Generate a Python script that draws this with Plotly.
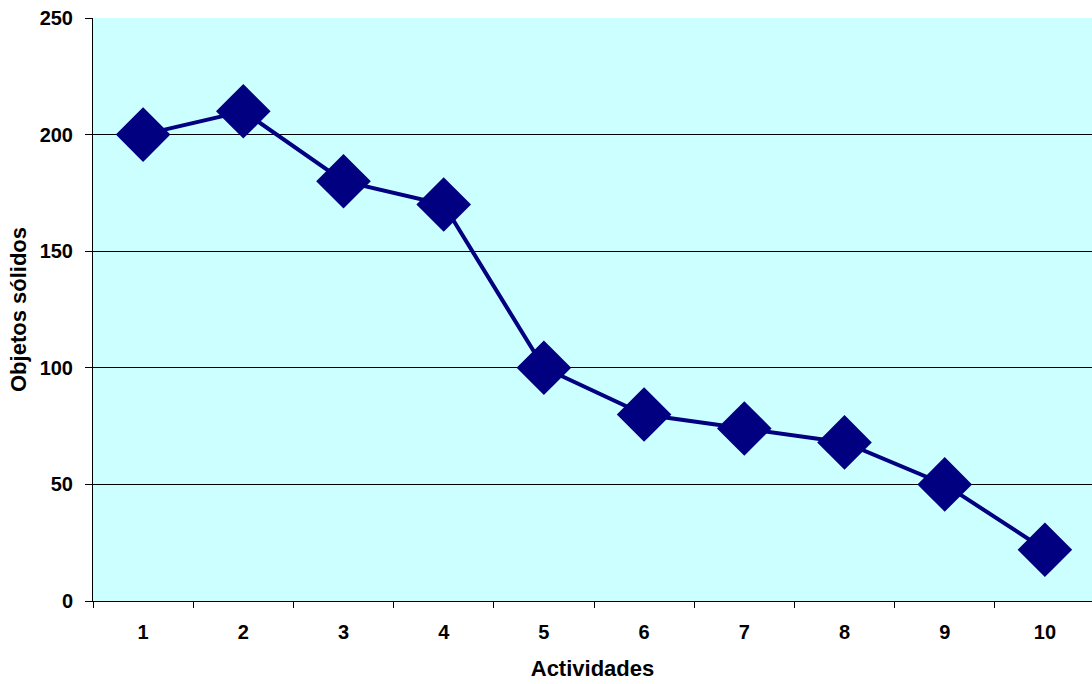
import plotly.graph_objects as go

categories = ["1", "2", "3", "4", "5", "6", "7", "8", "9", "10"]
values = [200, 210, 180, 170, 100, 80, 74, 68, 50, 22]
y_ticks = [0, 50, 100, 150, 200, 250]

fig = go.Figure()
fig.add_trace(go.Scatter(
    x=categories, y=values, mode="lines+markers",
    line=dict(color="#000080", width=4),
    marker=dict(symbol="diamond", size=42, color="#000080"),
    showlegend=False, cliponaxis=False,
))

tickfont = dict(size=20, family="Liberation Sans, Arial, sans-serif", color="black", weight="bold")
titlefont = dict(size=22, family="Liberation Sans, Arial, sans-serif", color="black", weight="bold")
fig.update_layout(
    width=1092, height=684,
    margin=dict(l=93, r=0, t=18, b=83),
    paper_bgcolor="white", plot_bgcolor="#CCFFFF",
    xaxis=dict(
        type="category", range=[-0.5, 9.47], tickson="boundaries",
        ticks="outside", ticklen=6, tickcolor="black", tickwidth=1,
        showline=True, linecolor="black", linewidth=1,
        showgrid=False, tickfont=tickfont, ticklabelstandoff=13,
        title=dict(text="Actividades", font=titlefont, standoff=18),
    ),
    yaxis=dict(
        range=[0, 250], tickvals=y_ticks,
        ticks="outside", ticklen=7, tickcolor="black",
        showline=True, linecolor="black", linewidth=1,
        showgrid=True, gridcolor="black", gridwidth=1, zeroline=False,
        tickfont=tickfont, ticklabelstandoff=8,
        title=dict(text="Objetos sólidos", font=titlefont, standoff=6),
    ),
)

fig.write_html("out.html", config={"displayModeBar": False},
               post_script="document.body.style.margin='0';")
